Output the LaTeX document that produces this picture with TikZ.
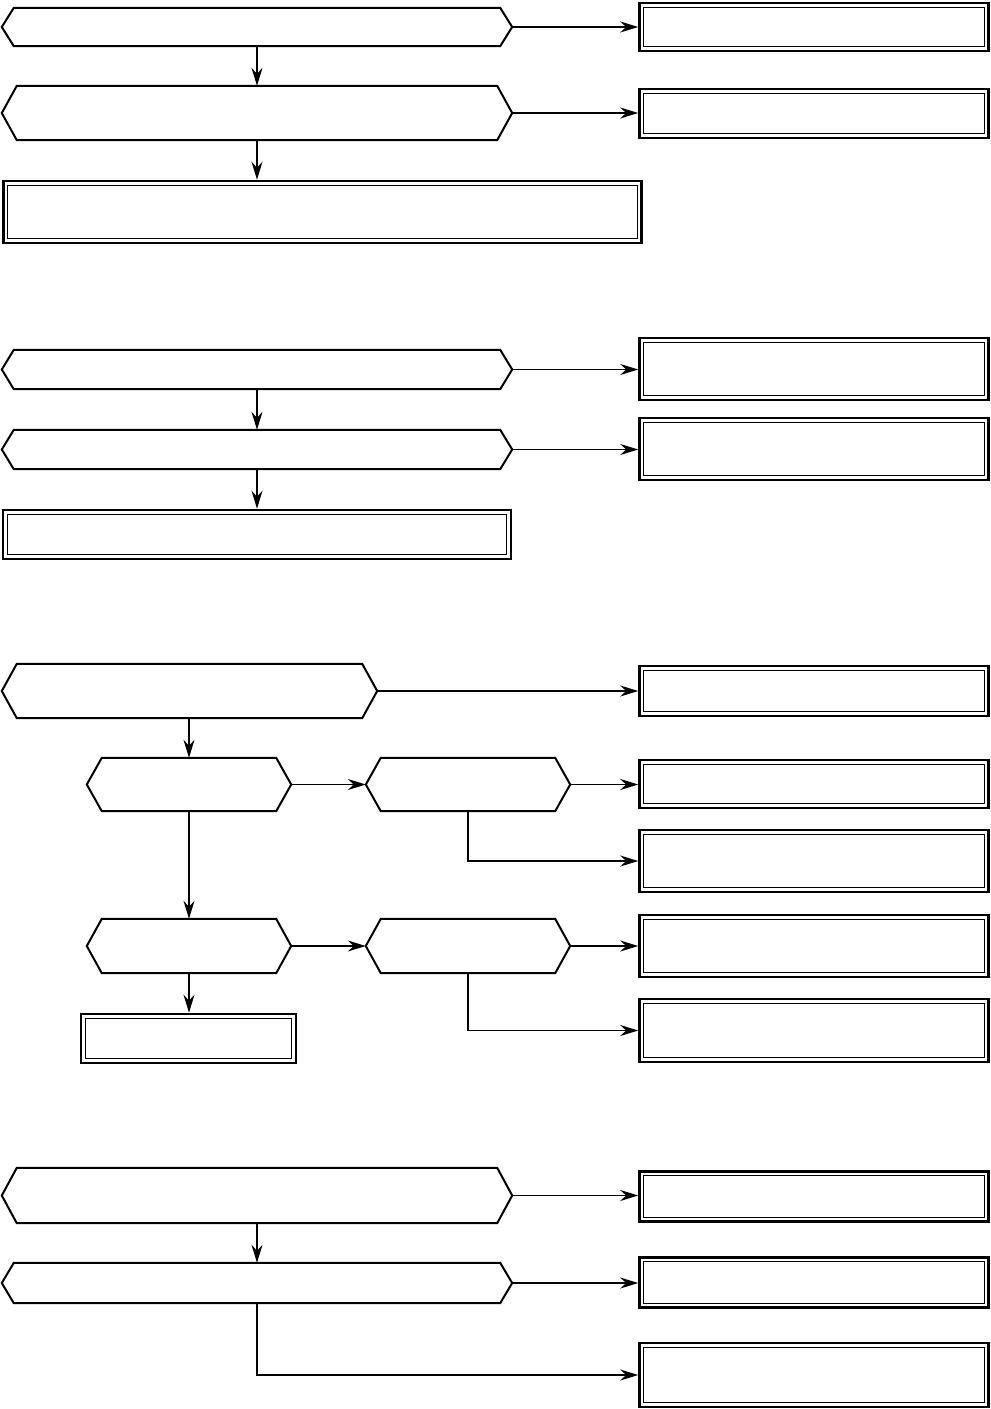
\documentclass[tikz,border=0pt]{standalone}
\usepackage{xcolor}
\usepackage{tikz}
\usetikzlibrary{arrows.meta, positioning, calc}
\tikzset{
  condbox/.style={rectangle, draw=none, inner sep=0pt},
  condline/.style={line width=2pt, line join=miter},
  resbox/.style={draw, rectangle, inner sep=0pt, line width=2.6pt},
  innerline/.style={line width=1.3pt},
  link/.style={-{Stealth[length=18pt, width=11pt, inset=6pt]}, line width=1.3pt}
}
% hexagonal condition: name, x, y, width, height, point depth
\newcommand{\cond}[6]{%
  \node[condbox, minimum width=#4pt, minimum height=#5pt] (#1) at (#2,#3) {};
  \draw[condline] (#1.west) -- ([xshift=#6pt]#1.north west) -- ([xshift=-#6pt]#1.north east)
    -- (#1.east) -- ([xshift=-#6pt]#1.south east) -- ([xshift=#6pt]#1.south west) -- cycle;
}
% double framed result: name, x, y, width, height
\newcommand{\result}[5]{%
  \node[resbox, minimum width=#4pt, minimum height=#5pt] (#1) at (#2,#3) {};
  \draw[innerline] ([shift={(5.5pt,-5.5pt)}]#1.north west) rectangle ([shift={(-5.5pt,5.5pt)}]#1.south east);
}
\begin{document}
\begin{tikzpicture}[x=1pt, y=-1pt]
        \useasboundingbox (0,0) rectangle (991,1409);

        % First chart
        \cond{a1}{257}{27}{510}{38}{12}
        \cond{a2}{257}{113}{510}{54}{15}
        \result{a3}{322.5}{212}{638}{62}
        \result{b1}{814}{27}{349}{48}
        \result{b2}{814}{113.5}{349}{49}

        \draw[link] (a1.east) -- (a1.east -| b1.west);
        \draw[link] (a2.east) -- (a2.east -| b2.west);
        \draw[link] (a1.south) -- (a2.north);
        \draw[link] (a2.south) -- (a2.south |- a3.north);

        % Second chart
        \cond{c1}{257}{369.5}{510}{39}{12}
        \cond{c2}{257}{449.5}{510}{39}{12}
        \result{c3}{257}{534.5}{508}{49}
        \result{d1}{814}{369}{349}{62}
        \result{d2}{814}{449}{349}{62}

        \draw[link] (c1.east) -- (c1.east -| d1.west);
        \draw[link] (c2.east) -- (c2.east -| d2.west);
        \draw[link] (c1.south) -- (c2.north);
        \draw[link] (c2.south) -- (c3.north);

        % Third chart
        \cond{e1}{189.5}{691}{375}{54}{15}
        \cond{e2}{189}{784.5}{204}{53}{15}
        \cond{e3}{468}{784.5}{204}{53}{15}
        \cond{e4}{189}{946}{204}{54}{15}
        \cond{e5}{468}{946}{204}{54}{15}
        \result{e6}{188.5}{1038.5}{215}{49}
        \result{f1}{814}{691}{349}{50}
        \result{f2}{814}{784}{349}{48}
        \result{f3}{814}{861}{349}{62}
        \result{f4}{814}{946}{349}{62}
        \result{f5}{814}{1030.5}{349}{63}

        \draw[link] (e1.east) -- (e1.east -| f1.west);
        \draw[link] (e2.south |- e1.south) -- (e2.north);
        \draw[link] (e2.east) -- (e3.west);
        \draw[link] (e3.east) -- (e3.east -| f2.west);
        \draw[link] (e3.south) |- (f3.west);
        \draw[link] (e2.south) -- (e4.north);
        \draw[link] (e4.east) -- (e5.west);
        \draw[link] (e5.east) -- (e5.east -| f4.west);
        \draw[link] (e5.south) |- (f5.west);
        \draw[link] (e4.south) -- (e4.south |- e6.north);

        % Fourth chart
        \cond{g1}{257}{1195.5}{510}{55}{15}
        \cond{g2}{257}{1283}{510}{40}{12}
        \result{h1}{814}{1196.5}{349}{50}
        \result{h2}{814}{1282.5}{349}{50}
        \result{h3}{814}{1375}{349}{64}

        \draw[link] (g1.east) -- (g1.east -| h1.west);
        \draw[link] (g1.south) -- (g2.north);
        \draw[link] (g2.east) -- (g2.east -| h2.west);
        \draw[link] (g2.south) |- (h3.west);
    \end{tikzpicture}
\end{document}
